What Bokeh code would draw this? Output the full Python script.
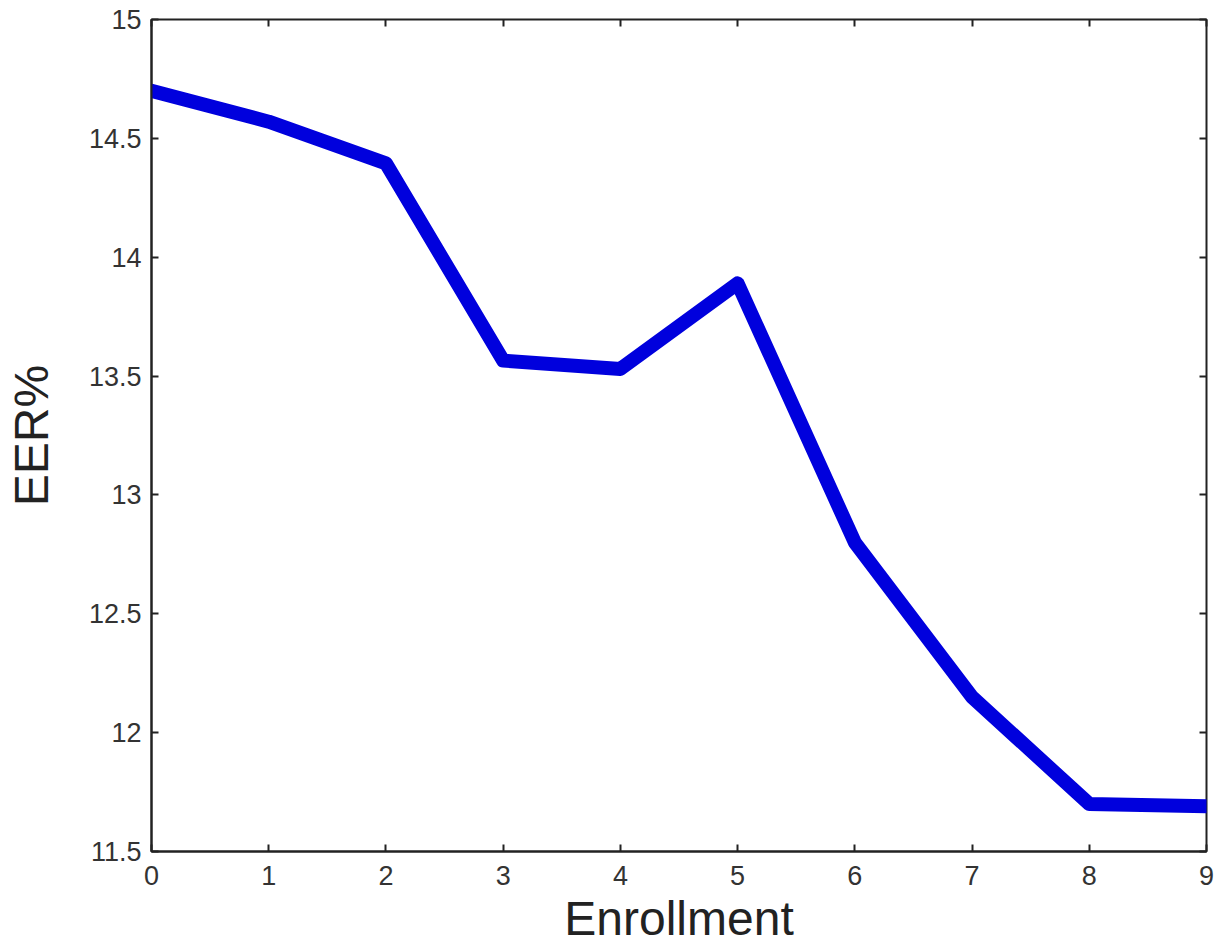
from bokeh.plotting import figure
from bokeh.models import LinearAxis, Range1d, FixedTicker
from bokeh.embed import file_html
from bokeh.resources import INLINE

enrollment = [0, 1, 2, 3, 4, 5, 6, 7, 8, 9]
eer = [14.70, 14.57, 14.395, 13.565, 13.53, 13.89, 12.80, 12.15, 11.70, 11.69]
x_ticks = [0, 1, 2, 3, 4, 5, 6, 7, 8, 9]
y_ticks = [11.5, 12, 12.5, 13, 13.5, 14, 14.5, 15]

FONT = "Liberation Sans"

p = figure(width=1219, height=947, output_backend="svg", toolbar_location=None,
           x_range=Range1d(0, 9), y_range=Range1d(11.5, 15),
           min_border_left=151, min_border_right=13, min_border_top=19, min_border_bottom=95)
p.grid.visible = False
p.outline_line_color = "#222222"
p.outline_line_width = 2
p.background_fill_color = "white"
p.border_fill_color = "white"

p.line(enrollment, eer, line_color="#0000dd", line_width=14, line_join="round", line_cap="round")

for ax in p.xaxis:
    ax.ticker = FixedTicker(ticks=x_ticks)
    ax.axis_label = "Enrollment"
for ax in p.yaxis:
    ax.ticker = FixedTicker(ticks=y_ticks)
    ax.axis_label = "EER%"

for ax in list(p.xaxis) + list(p.yaxis):
    ax.major_tick_in = 7
    ax.major_tick_out = 0
    ax.minor_tick_line_color = None
    ax.major_tick_line_color = "#222222"
    ax.major_tick_line_width = 2
    ax.axis_line_color = "#222222"
    ax.axis_line_width = 2
    ax.major_label_text_font = FONT
    ax.major_label_text_font_size = "27px"
    ax.major_label_text_color = "#333333"
    ax.axis_label_text_font = FONT
    ax.axis_label_text_font_style = "normal"
    ax.axis_label_text_font_size = "48px"
    ax.axis_label_text_color = "#222222"

p.xaxis.major_label_standoff = 14
p.yaxis.major_label_standoff = 10
p.xaxis.axis_label_standoff = 4
p.yaxis.axis_label_standoff = 28

top = LinearAxis(ticker=FixedTicker(ticks=x_ticks), major_label_text_font_size="0px",
                 major_tick_in=7, major_tick_out=0, minor_tick_line_color=None,
                 major_tick_line_color="#222222", major_tick_line_width=2,
                 axis_line_color=None, major_label_standoff=0)
right = LinearAxis(ticker=FixedTicker(ticks=y_ticks), major_label_text_font_size="0px",
                   major_tick_in=7, major_tick_out=0, minor_tick_line_color=None,
                   major_tick_line_color="#222222", major_tick_line_width=2,
                   axis_line_color=None, major_label_standoff=0)
p.add_layout(top, "above")
p.add_layout(right, "right")

open("out.html", "w").write(file_html(p, INLINE))
